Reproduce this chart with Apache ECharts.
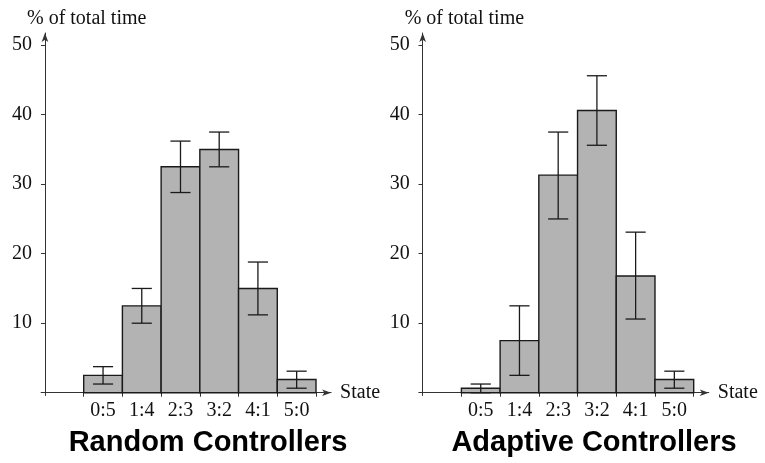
<!DOCTYPE html>
<html>
<head>
<meta charset="utf-8">
<script src="https://cdn.jsdelivr.net/npm/echarts@6/dist/echarts.min.js"></script>
<style>html,body{margin:0;padding:0;background:#fff}#c{width:765px;height:463px}</style>
</head>
<body>
<div id="c"></div>
<script>
var categories = ['0:5', '1:4', '2:3', '3:2', '4:1', '5:0'];
var randomMean = [2.5, 12.5, 32.5, 35.0, 15.0, 1.9];
var randomLow = [1.25, 10.0, 28.8, 32.5, 11.2, 0.65];
var randomHigh = [3.75, 15.0, 36.2, 37.5, 18.8, 3.1];
var adaptiveMean = [0.65, 7.5, 31.3, 40.6, 16.8, 1.9];
var adaptiveLow = [0.0, 2.5, 25.0, 35.6, 10.6, 0.65];
var adaptiveHigh = [1.25, 12.5, 37.5, 45.6, 23.1, 3.1];
var yTicks = [10, 20, 30, 40, 50];
var panelTitles = ['Random Controllers', 'Adaptive Controllers'];
var yName = '% of total time';
var xName = 'State';

var serif = "'Liberation Serif', 'Times New Roman', serif";
var sans = "'Liberation Sans', Arial, sans-serif";
var ink = '#111';

// slot boundaries (category i occupies [i+1, i+2])
var boundaries = categories.map(function (c, i) { return i + 1; }).concat([categories.length + 1]);
var centers = categories.map(function (c, i) { return i + 1.5; });

function barData(means) { return means.map(function (v, i) { return [centers[i], v]; }); }
function errData(lo, hi) { return lo.map(function (v, i) { return [centers[i], v, hi[i]]; }); }

function renderBar(params, api) {
  var x = api.value(0), y = api.value(1);
  var p1 = api.coord([x - 0.5, y]);
  var p2 = api.coord([x + 0.5, 0]);
  return {
    type: 'rect',
    shape: { x: p1[0], y: p1[1], width: p2[0] - p1[0], height: p2[1] - p1[1] },
    style: { fill: '#b3b3b3', stroke: '#1a1a1a', lineWidth: 1.4 }
  };
}
function renderErr(params, api) {
  var x = api.value(0), lo = api.value(1), hi = api.value(2);
  var a = api.coord([x, lo]), b = api.coord([x, hi]);
  var c1 = api.coord([x - 0.26, hi]), c2 = api.coord([x + 0.26, hi]);
  var d1 = api.coord([x - 0.26, lo]), d2 = api.coord([x + 0.26, lo]);
  var st = { stroke: '#1a1a1a', lineWidth: 1.3 };
  return {
    type: 'group',
    children: [
      { type: 'line', shape: { x1: a[0], y1: a[1], x2: b[0], y2: b[1] }, style: st },
      { type: 'line', shape: { x1: c1[0], y1: c1[1], x2: c2[0], y2: c2[1] }, style: st },
      { type: 'line', shape: { x1: d1[0], y1: d1[1], x2: d2[0], y2: d2[1] }, style: st }
    ]
  };
}

var lefts = [41.1, 418.8];
var grids = lefts.map(function (l) { return { left: l, width: 290, top: 33, bottom: 67.5 }; });

var xAxes = [], yAxes = [], series = [];
[0, 1].forEach(function (g) {
  xAxes.push({
    type: 'value', gridIndex: g, min: -0.1, max: 7.39,
    name: xName, nameLocation: 'end', nameGap: 9,
    nameTextStyle: { fontFamily: serif, fontSize: 20, color: ink },
    axisLine: { show: true, onZero: true, symbol: ['none', 'arrow'], symbolSize: [5, 9],
      lineStyle: { color: '#333', width: 1 } },
    axisTick: { show: true, inside: false, length: 4, customValues: boundaries,
      lineStyle: { color: '#333', width: 1 } },
    axisLabel: { show: true, customValues: centers, margin: 5,
      fontFamily: serif, fontSize: 20, color: ink,
      formatter: function (v) { var i = Math.round(v - 1.5); return categories[i] || ''; } },
    splitLine: { show: false }
  });
  yAxes.push({
    type: 'value', gridIndex: g, position: 'left', min: -0.4, max: 51.75,
    name: yName, nameLocation: 'end', nameGap: 4,
    nameTextStyle: { fontFamily: serif, fontSize: 20, color: ink, align: 'left', padding: [0, 0, 0, -18] },
    axisLine: { show: true, onZero: true, symbol: ['none', 'arrow'], symbolSize: [5, 9],
      lineStyle: { color: '#333', width: 1 } },
    axisTick: { show: true, inside: false, length: 4, customValues: yTicks,
      lineStyle: { color: '#333', width: 1 } },
    axisLabel: { show: true, customValues: yTicks, margin: 9,
      fontFamily: serif, fontSize: 20, color: ink },
    splitLine: { show: false }
  });
  yAxes.push({
    type: 'value', gridIndex: g, position: 'left', offset: 0, min: -0.4, max: 51.75,
    axisLine: { show: true, onZero: true, lineStyle: { color: '#333', width: 1, opacity: 0 } },
    axisTick: { show: true, inside: true, length: 4, customValues: yTicks,
      lineStyle: { color: '#333', width: 1 } },
    axisLabel: { show: false },
    splitLine: { show: false }
  });
});

var means = [randomMean, adaptiveMean], lows = [randomLow, adaptiveLow], highs = [randomHigh, adaptiveHigh];
[0, 1].forEach(function (g) {
  series.push({ type: 'custom', xAxisIndex: g, yAxisIndex: g * 2, renderItem: renderBar,
    data: barData(means[g]), encode: { x: 0, y: 1 }, z: 2 });
  series.push({ type: 'custom', xAxisIndex: g, yAxisIndex: g * 2, renderItem: renderErr,
    data: errData(lows[g], highs[g]), encode: { x: 0, y: [1, 2] }, z: 3 });
});

var chart = echarts.init(document.getElementById('c'), null, { renderer: 'canvas' });
chart.setOption({
  animation: false,
  backgroundColor: '#fff',
  grid: grids,
  xAxis: xAxes,
  yAxis: yAxes,
  series: series,
  graphic: [
    { type: 'text', x: 208, y: 443, style: { text: panelTitles[0], font: "bold 29px " + sans, fill: '#000', align: 'center', verticalAlign: 'middle' } },
    { type: 'text', x: 594, y: 443, style: { text: panelTitles[1], font: "bold 29px " + sans, fill: '#000', align: 'center', verticalAlign: 'middle' } }
  ]
});
</script>
</body>
</html>
